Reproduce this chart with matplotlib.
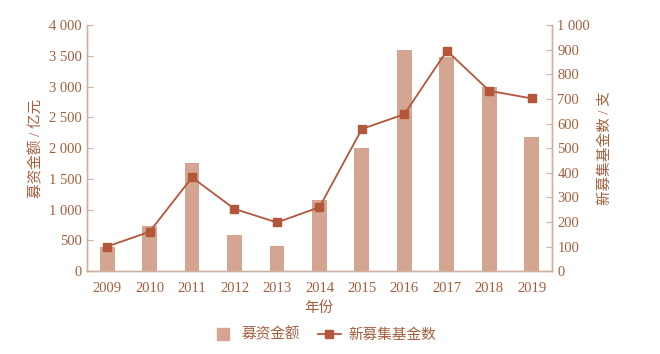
import matplotlib
matplotlib.use('Agg')
import matplotlib.pyplot as plt
from matplotlib.ticker import FuncFormatter, MultipleLocator
from matplotlib.lines import Line2D

plt.rcParams['font.family'] = ['Liberation Serif', 'Noto Sans CJK SC']

years = ['2009', '2010', '2011', '2012', '2013', '2014',
         '2015', '2016', '2017', '2018', '2019']
raised = [390, 740, 1760, 580, 410, 1150, 2000, 3590, 3490, 3000, 2180]
new_funds = [100, 160, 381, 253, 198, 260, 578, 638, 896, 733, 702]

text_color = '#a45f3e'
spine_color = '#cfb0a0'
bar_color = '#d4a591'
line_color = '#b4563a'


def space_thousands(v, pos):
    return f'{int(v):,}'.replace(',', ' ')


fig = plt.figure(figsize=(6.6, 3.54), dpi=100)
ax = fig.add_axes([0.132, 0.234, 0.704, 0.695])
ax2 = ax.twinx()

x = list(range(len(years)))
ax.bar(x, raised, width=0.35, color=bar_color, zorder=1)
ax2.plot(x, new_funds, color=line_color, lw=1.3, marker='s', ms=5.5, zorder=3)

ax.set_xlim(-0.47, 10.47)
ax.set_ylim(0, 4000)
ax2.set_ylim(0, 1000)
ax.yaxis.set_major_locator(MultipleLocator(500))
ax2.yaxis.set_major_locator(MultipleLocator(100))
ax.yaxis.set_major_formatter(FuncFormatter(space_thousands))
ax2.yaxis.set_major_formatter(FuncFormatter(space_thousands))
ax.set_xticks(x)
ax.set_xticklabels(years)

for a in (ax, ax2):
    a.spines['top'].set_visible(False)
    for s in ('left', 'right', 'bottom'):
        a.spines[s].set_color(spine_color)
        a.spines[s].set_linewidth(1.0)
    a.tick_params(axis='y', direction='in', length=4, color=spine_color,
                  labelcolor=text_color, labelsize=10.5, pad=4)
ax.tick_params(axis='x', length=0, labelcolor=text_color, labelsize=10.5, pad=8)

ax.set_xlabel('年份', color=text_color, fontsize=10.5, labelpad=4)
ax.set_ylabel('募资金额 / 亿元', color=text_color, fontsize=10.5, labelpad=4)
ax2.set_ylabel('新募集基金数 / 支', color=text_color, fontsize=10.5,
               rotation=90, labelpad=6)

handles = [Line2D([], [], color=bar_color, lw=0, marker='s', ms=8),
           Line2D([], [], color=line_color, lw=1.3, marker='s', ms=5.5)]
fig.legend(handles, ['募资金额', '新募集基金数'], loc='center',
           bbox_to_anchor=(0.49, 0.055), ncol=2, frameon=False,
           fontsize=10.5, labelcolor=text_color, handlelength=1.6,
           columnspacing=1.2, handletextpad=0.5)

fig.savefig('out.png', dpi=100)
